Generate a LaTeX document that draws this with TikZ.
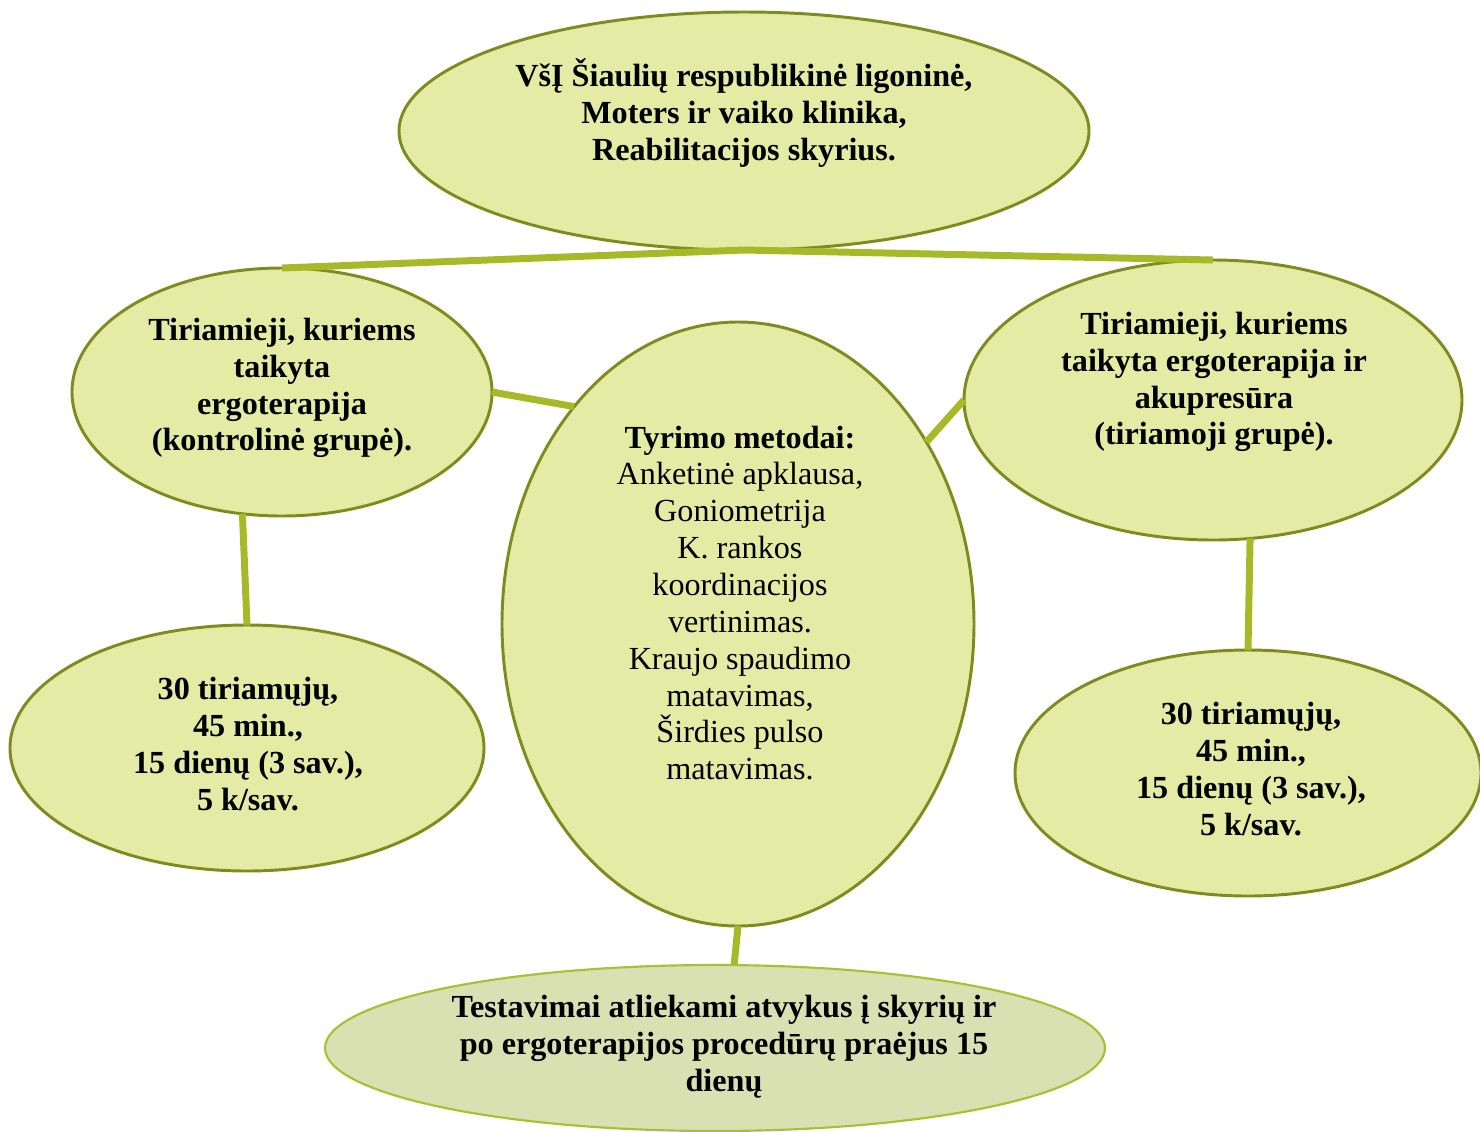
\documentclass[tikz,border=0pt]{standalone}
\usepackage{fontspec}
\setmainfont{Liberation Serif}
\usetikzlibrary{shapes.geometric}
\definecolor{fillc}{HTML}{E3EBA5}
\definecolor{bordc}{HTML}{7E8C1F}
\definecolor{linec}{HTML}{A5BA26}
\definecolor{fillb}{HTML}{D9E0B2}
\definecolor{bordb}{HTML}{A9C033}
\tikzset{
  bubble/.style={ellipse, draw=bordc, fill=fillc, line width=1.1pt, inner sep=0pt, outer sep=0pt},
  bubbleb/.style={ellipse, draw=bordb, fill=fillb, line width=0.8pt, inner sep=0pt, outer sep=0pt},
  txt/.style={align=center, inner sep=0pt, font=\fontsize{12}{13.75}\selectfont},
  btxt/.style={align=center, inner sep=0pt, font=\bfseries\fontsize{12}{13.75}\selectfont},
  conn/.style={draw=linec, line width=2.6pt}
}
\begin{document}
\begin{tikzpicture}[x=0.373pt, y=-0.373pt]
\useasboundingbox (0,0) rectangle (1480,1131);
% ellipses
\node[bubble, minimum width={690*0.373pt}, minimum height={238*0.373pt}] (e1) at (744,131) {};
\node[bubble, minimum width={420*0.373pt}, minimum height={248*0.373pt}] (e2) at (282,392) {};
\node[bubble, minimum width={472*0.373pt}, minimum height={604*0.373pt}] (e3) at (738,624) {};
\node[bubble, minimum width={498*0.373pt}, minimum height={280*0.373pt}] (e4) at (1213,400) {};
\node[bubble, minimum width={474*0.373pt}, minimum height={246*0.373pt}] (e5) at (247,748) {};
\node[bubble, minimum width={466*0.373pt}, minimum height={246*0.373pt}] (e6) at (1248,773) {};
\node[bubbleb, minimum width={780*0.373pt}, minimum height={166*0.373pt}] (e7) at (715,1048) {};
% connectors
\draw[conn] (e2.north) -- (e1.south) -- (e4.north);
\draw[conn] (e2.east) -- (e3.127.3);
\draw[conn] (e3.44.8) -- (e4.west);
\draw[conn] (e2.-108) -- (e5.north);
\draw[conn] (e4.-75.6) -- (e6.north);
\draw[conn] (e3.south) -- (e7.77.6);
% texts
\node[btxt] (t1) at (744,113) {VšĮ Šiaulių respublikinė ligoninė,\\Moters ir vaiko klinika,\\Reabilitacijos skyrius.};
\node[btxt] (t2) at (282,388) {Tiriamieji, kuriems\\taikyta\\ergoterapija\\(kontrolinė grupė).};
\node[txt] (t3) at (740,603) {\textbf{Tyrimo metodai:}\\Anketinė apklausa,\\Goniometrija\\K. rankos\\koordinacijos\\vertinimas.\\Kraujo spaudimo\\matavimas,\\Širdies pulso\\matavimas.};
\node[btxt] (t4) at (1214,382) {Tiriamieji, kuriems\\taikyta ergoterapija ir\\akupresūra\\(tiriamoji grupė).};
\node[btxt] (t5) at (248,744) {30 tiriamųjų,\\45 min.,\\15 dienų (3 sav.),\\5 k/sav.};
\node[btxt] (t6) at (1251,769) {30 tiriamųjų,\\45 min.,\\15 dienų (3 sav.),\\5 k/sav.};
\node[btxt] (t7) at (724,1047) {Testavimai atliekami atvykus į skyrių ir\\po ergoterapijos procedūrų praėjus 15\\dienų};
\end{tikzpicture}
\end{document}
